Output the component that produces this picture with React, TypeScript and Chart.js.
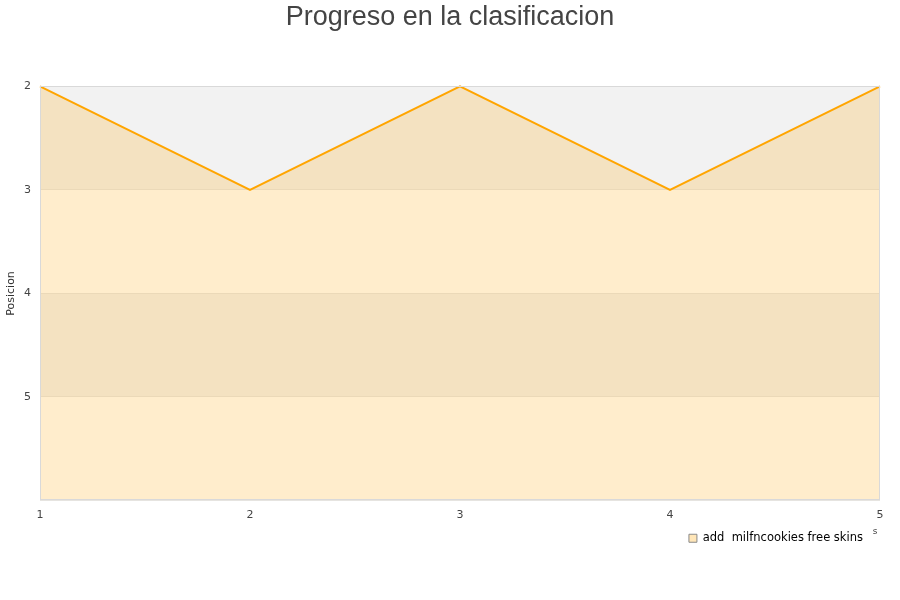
import React, { useEffect, useRef } from "react";
import { Chart, registerables } from "chart.js";

Chart.register(...registerables);

const rounds = ["1", "2", "3", "4", "5"];
const positions = [2, 3, 2, 3, 2];
const seriesName = "add  milfncookies free skins";
const chartTitle = "Progreso en la clasificacion";
const yTitle = "Posicion";
const yMin = 2;
const yMax = 6;
const shadedBands = [
  [2, 3],
  [4, 5],
];

const bandsPlugin = {
  id: "bands",
  afterLayout(chart: any) {
    const t = chart.titleBlock;
    if (t) {
      t.left = 0;
      t.right = chart.width;
      t.width = chart.width;
    }
    const l = chart.legend;
    if (l) {
      l.right -= 7;
    }
  },
  beforeDraw(chart: any) {
    const { ctx, chartArea, scales } = chart;
    const y = scales.y;
    ctx.save();
    ctx.fillStyle = "#f2f2f2";
    for (const [a, b] of shadedBands) {
      const p1 = y.getPixelForValue(a);
      const p2 = y.getPixelForValue(b);
      ctx.fillRect(chartArea.left, Math.min(p1, p2), chartArea.right - chartArea.left, Math.abs(p2 - p1));
    }
    ctx.restore();
  },
  afterDraw(chart: any) {
    const { ctx, chartArea } = chart;
    ctx.save();
    ctx.strokeStyle = "#d9d9d9";
    ctx.lineWidth = 1;
    ctx.strokeRect(
      Math.round(chartArea.left) + 0.5,
      Math.round(chartArea.top) + 0.5,
      Math.round(chartArea.right - chartArea.left) - 1,
      Math.round(chartArea.bottom - chartArea.top) - 1
    );
    ctx.fillStyle = "#444";
    ctx.font = "9px 'DejaVu Sans'";
    ctx.textAlign = "center";
    ctx.textBaseline = "middle";
    ctx.fillText("s", chartArea.right - 5, chartArea.bottom + 31);
    ctx.restore();
  },
};

export default function App() {
  const ref = useRef<HTMLCanvasElement>(null);
  useEffect(() => {
    if (!ref.current) return;
    const chart = new Chart(ref.current, {
      type: "line",
      data: {
        labels: rounds,
        datasets: [
          {
            label: seriesName,
            data: positions,
            borderColor: "#ffa500",
            backgroundColor: "rgba(255,165,0,0.2)",
            borderWidth: 2,
            pointRadius: 0,
            tension: 0,
            fill: "start",
            clip: false as any,
          },
        ],
      },
      options: {
        responsive: false,
        animation: false,
        layout: { padding: { left: 0, right: 20, top: 0, bottom: 46 } },
        plugins: {
          title: {
            display: true,
            text: chartTitle,
            color: "#444",
            font: { family: "'Liberation Sans', Arial, sans-serif", size: 27, weight: "normal" },
            padding: { top: 1, bottom: 53 },
          },
          legend: {
            display: true,
            position: "bottom",
            align: "end",
            labels: {
              color: "#111",
              boxWidth: 8,
              boxHeight: 8,
              font: { family: "'DejaVu Sans'", size: 11.5 },
              generateLabels: () => [
                {
                  text: seriesName,
                  fillStyle: "#ffe6b8",
                  strokeStyle: "#8a8a8a",
                  lineWidth: 1,
                  hidden: false,
                  datasetIndex: 0,
                },
              ],
            },
          },
          tooltip: { enabled: false },
        },
        scales: {
          x: {
            type: "category",
            offset: false,
            grid: { display: false, drawTicks: false },
            border: { display: false },
            ticks: {
              color: "#444",
              padding: 8,
              maxRotation: 0,
              font: { family: "'DejaVu Sans'", size: 11 },
            },
            afterFit(scale: any) {
              scale.height = 22;
            },
          },
          y: {
            type: "linear",
            reverse: true,
            min: yMin,
            max: yMax,
            grid: { color: "#e6e6e6", drawTicks: false },
            border: { display: false },
            ticks: {
              stepSize: 1,
              color: "#444",
              padding: 9,
              font: { family: "'DejaVu Sans'", size: 11 },
              callback: (v: any) => (v === yMax ? "" : String(v)),
            },
            title: {
              display: true,
              text: yTitle,
              color: "#333",
              font: { family: "'DejaVu Sans'", size: 11 },
              padding: { top: 5, bottom: 0 },
            },
            afterFit(scale: any) {
              scale.width = 40;
            },
          },
        },
      },
      plugins: [bandsPlugin],
    });
    return () => chart.destroy();
  }, []);
  return (
    <div style={{ position: "fixed", left: 0, top: 0, width: 900, height: 600, background: "#fff" }}>
      <canvas ref={ref} width={900} height={600} />
    </div>
  );
}
